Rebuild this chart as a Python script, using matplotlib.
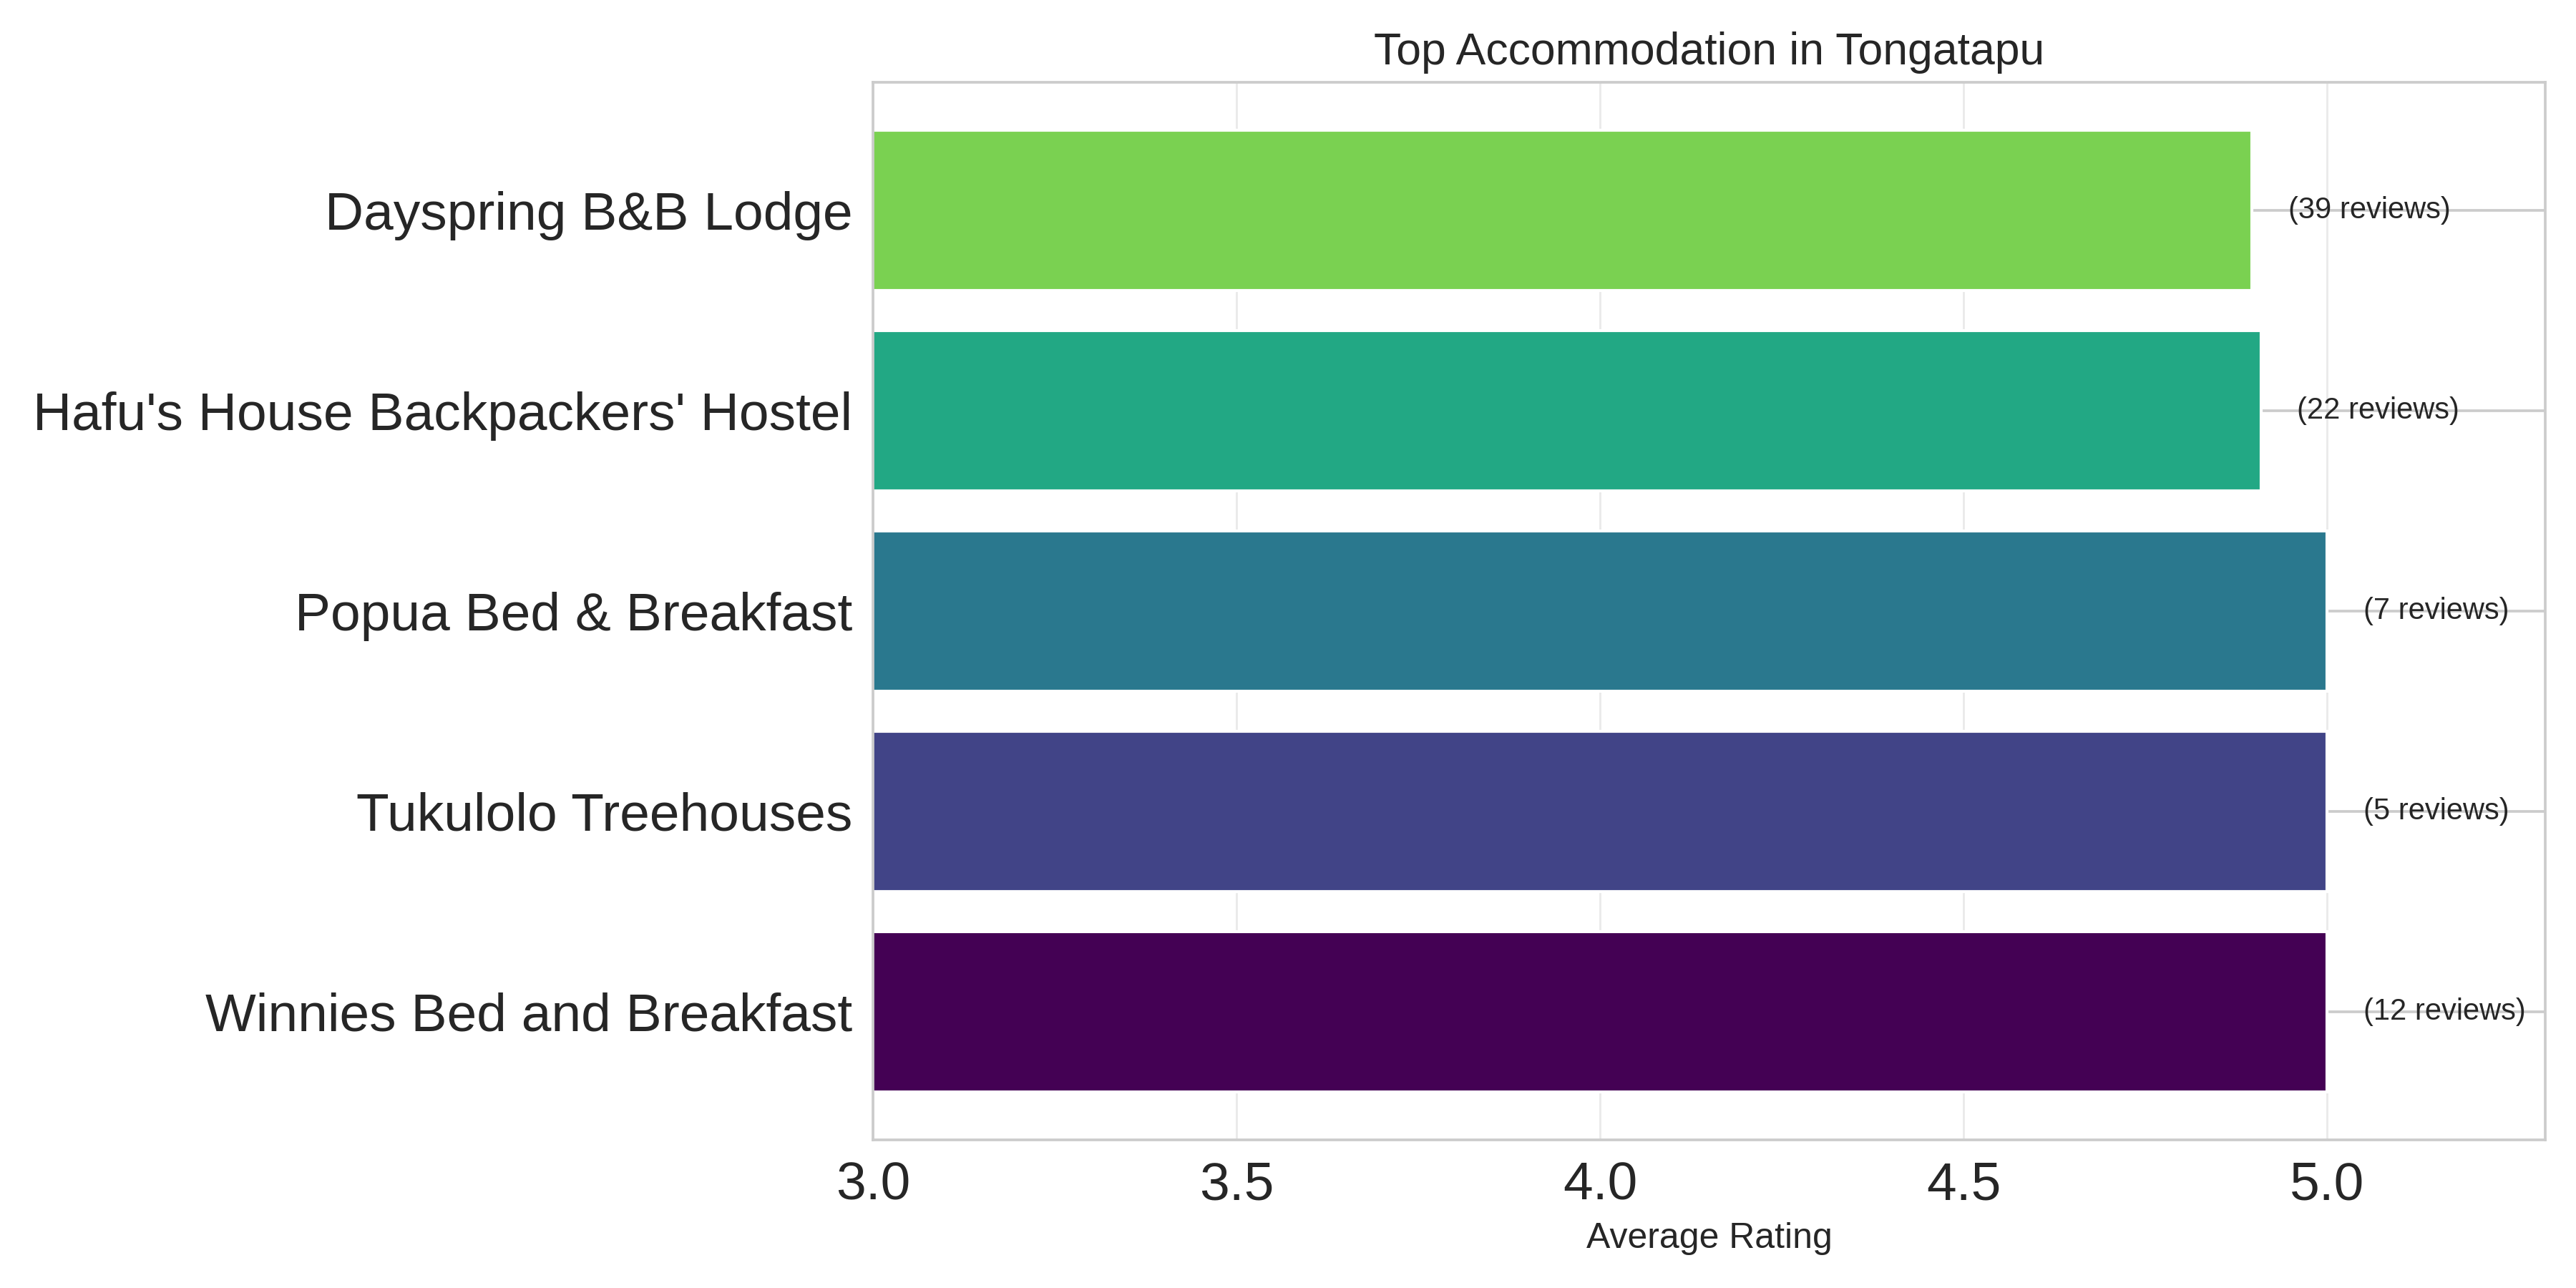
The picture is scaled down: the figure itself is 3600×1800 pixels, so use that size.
import matplotlib
matplotlib.use("Agg")
import matplotlib.pyplot as plt
import numpy as np
import seaborn as sns

names = [
    "Winnies Bed and Breakfast",
    "Tukulolo Treehouses",
    "Popua Bed & Breakfast",
    "Hafu's House Backpackers' Hostel",
    "Dayspring B&B Lodge",
]
ratings = [5.0, 5.0, 5.0, 4.909, 4.897]
reviews = [12, 5, 7, 22, 39]

sns.set_style("whitegrid")
plt.rcParams["font.family"] = ["Liberation Sans", "DejaVu Sans"]

fig, ax = plt.subplots(figsize=(12, 6), dpi=300)
colors = plt.cm.viridis(np.linspace(0, 0.8, len(names)))
ax.barh(names, ratings, color=colors, height=0.8, zorder=2)

# review counts next to each bar
for i, (r, n) in enumerate(zip(ratings, reviews)):
    ax.text(r + 0.05, i, f"({n} reviews)", va="center", ha="left", fontsize=10, color="#262626", zorder=3)

ax.set_xlim(3.0, 5.3)
ax.set_xticks([3.0, 3.5, 4.0, 4.5, 5.0])
ax.tick_params(axis="both", labelsize=18)
ax.grid(axis="y", color="#cccccc", linewidth=0.9, zorder=0)
ax.grid(axis="x", color="#cccccc", alpha=0.4, linewidth=0.7, zorder=0)
ax.set_axisbelow(True)
for s in ax.spines.values():
    s.set_color("#cccccc")
    s.set_linewidth(0.9)
ax.set_xlabel("Average Rating", fontsize=12)
ax.set_title("Top Accommodation in Tongatapu", fontsize=15)

fig.subplots_adjust(left=0.339, right=0.988, top=0.936, bottom=0.115)
fig.savefig("out.png", dpi=300)
